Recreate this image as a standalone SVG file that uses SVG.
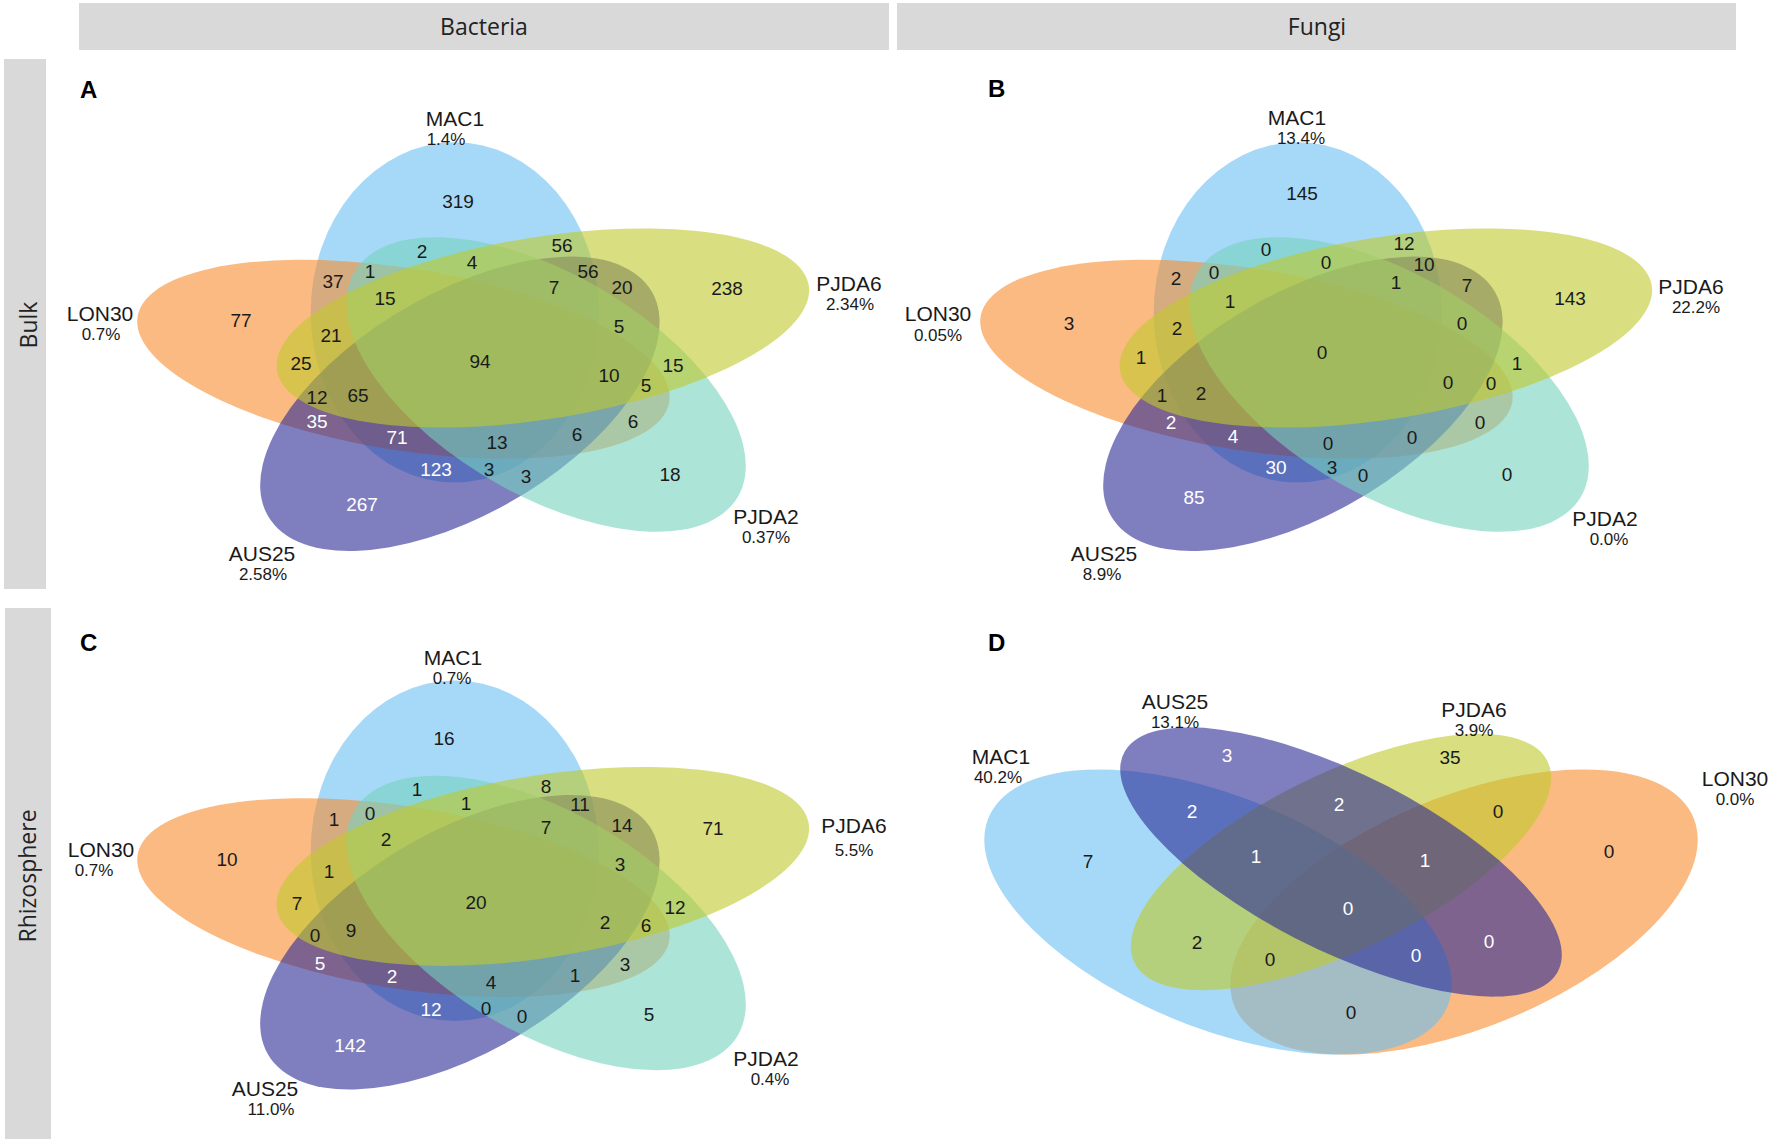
<svg xmlns="http://www.w3.org/2000/svg" width="1772" height="1144" viewBox="0 0 1772 1144">
<style>
.bar{fill:#d9d9d9}
.hdr{font-family:"Open Sans","Liberation Sans",sans-serif;font-size:23px;fill:#222;text-anchor:middle}
.let{font-family:"Liberation Sans",Arial,sans-serif;font-size:24px;font-weight:bold;fill:#000}
.lbl{font-family:"Liberation Sans",Arial,sans-serif;font-size:21px;fill:#1a1a1a;text-anchor:middle}
.pct{font-family:"Liberation Sans",Arial,sans-serif;font-size:17px;fill:#1a1a1a;text-anchor:middle}
.n{font-family:"Liberation Sans",Arial,sans-serif;font-size:19px;fill:#1a1a1a;text-anchor:middle}
.n .w,.w{fill:#fff}
.mac{fill:#6bc0f2;fill-opacity:.6}
.lon{fill:#f78c2f;fill-opacity:.6}
.aus{fill:#2a2a96;fill-opacity:.6}
.pj2{fill:#76d2be;fill-opacity:.6}
.pj6{fill:#c0ca2b;fill-opacity:.6}
</style>
<defs>
<ellipse id="e5" cx="0" cy="0" rx="0.46" ry="0.24"/>
</defs>

<g id="headers">
<rect class="bar" x="79" y="3" width="810" height="47"/>
<text class="hdr" x="484" y="35">Bacteria</text>
<rect class="bar" x="897" y="3" width="839" height="47"/>
<text class="hdr" x="1317" y="35">Fungi</text>
<rect class="bar" x="4" y="59" width="42" height="530"/>
<text class="hdr" transform="translate(37,325) rotate(-90)">Bulk</text>
<rect class="bar" x="5" y="608" width="46" height="531"/>
<text class="hdr" transform="translate(36,876) rotate(-90)">Rhizosphere</text>
</g>

<!-- Panel A -->
<g id="panelA">
<text class="let" x="80" y="98">A</text>
<g id="A-MAC1"><use href="#e5" class="mac" transform="translate(481.4,357.6) scale(600,370) translate(-0.04446,-0.12216) rotate(-90)"/>
<text class="lbl" x="455" y="126">MAC1</text><text class="pct" x="446" y="145">1.4%</text></g>
<g id="A-LON30"><use href="#e5" class="lon" transform="translate(481.4,357.6) scale(600,370) translate(-0.12992,0.00454) rotate(-162)"/>
<text class="lbl" x="100" y="321">LON30</text><text class="pct" x="101" y="340">0.7%</text></g>
<g id="A-AUS25"><use href="#e5" class="aus" transform="translate(481.4,357.6) scale(600,370) translate(-0.03583,0.12496) rotate(-234)"/>
<text class="lbl" x="262" y="561">AUS25</text><text class="pct" x="263" y="580">2.58%</text></g>
<g id="A-PJDA2"><use href="#e5" class="pj2" transform="translate(481.4,357.6) scale(600,370) translate(0.10778,0.07269) rotate(-306)"/>
<text class="lbl" x="766" y="524">PJDA2</text><text class="pct" x="766" y="543">0.37%</text></g>
<g id="A-PJDA6"><use href="#e5" class="pj6" transform="translate(481.4,357.6) scale(600,370) translate(0.10244,-0.08004) rotate(-18)"/>
<text class="lbl" x="849" y="291">PJDA6</text><text class="pct" x="850" y="310">2.34%</text></g>
<g id="A-counts" class="n">
<text x="458" y="208">319</text><text x="422" y="258">2</text><text x="472" y="269">4</text>
<text x="370" y="278">1</text><text x="333" y="288">37</text><text x="385" y="305">15</text>
<text x="241" y="327">77</text><text x="331" y="342">21</text><text x="562" y="252">56</text>
<text x="588" y="278">56</text><text x="554" y="294">7</text><text x="622" y="294">20</text>
<text x="727" y="295">238</text><text x="619" y="333">5</text><text x="301" y="370">25</text>
<text x="480" y="368">94</text><text x="317" y="404">12</text><text x="358" y="402">65</text>
<text class="w" x="317" y="428">35</text><text class="w" x="397" y="444">71</text><text x="497" y="449">13</text>
<text class="w" x="436" y="476">123</text><text x="489" y="476">3</text><text class="w" x="362" y="511">267</text>
<text x="609" y="382">10</text><text x="646" y="392">5</text><text x="673" y="372">15</text>
<text x="633" y="428">6</text><text x="577" y="441">6</text><text x="526" y="483">3</text>
<text x="670" y="481">18</text>
</g>
</g>

<!-- Panel B -->
<g id="panelB">
<text class="let" x="988" y="97">B</text>
<g id="B-MAC1"><use href="#e5" class="mac" transform="translate(1324.4,357.6) scale(600,370) translate(-0.04446,-0.12216) rotate(-90)"/>
<text class="lbl" x="1297" y="125">MAC1</text><text class="pct" x="1301" y="144">13.4%</text></g>
<g id="B-LON30"><use href="#e5" class="lon" transform="translate(1324.4,357.6) scale(600,370) translate(-0.12992,0.00454) rotate(-162)"/>
<text class="lbl" x="938" y="321">LON30</text><text class="pct" x="938" y="341">0.05%</text></g>
<g id="B-AUS25"><use href="#e5" class="aus" transform="translate(1324.4,357.6) scale(600,370) translate(-0.03583,0.12496) rotate(-234)"/>
<text class="lbl" x="1104" y="561">AUS25</text><text class="pct" x="1102" y="580">8.9%</text></g>
<g id="B-PJDA2"><use href="#e5" class="pj2" transform="translate(1324.4,357.6) scale(600,370) translate(0.10778,0.07269) rotate(-306)"/>
<text class="lbl" x="1605" y="526">PJDA2</text><text class="pct" x="1609" y="545">0.0%</text></g>
<g id="B-PJDA6"><use href="#e5" class="pj6" transform="translate(1324.4,357.6) scale(600,370) translate(0.10244,-0.08004) rotate(-18)"/>
<text class="lbl" x="1691" y="294">PJDA6</text><text class="pct" x="1696" y="313">22.2%</text></g>
<g id="B-counts" class="n">
<text x="1302" y="200">145</text><text x="1266" y="256">0</text><text x="1326" y="269">0</text>
<text x="1404" y="250">12</text><text x="1424" y="271">10</text><text x="1176" y="285">2</text>
<text x="1214" y="279">0</text><text x="1396" y="289">1</text><text x="1467" y="292">7</text>
<text x="1570" y="305">143</text><text x="1069" y="330">3</text><text x="1230" y="308">1</text>
<text x="1177" y="335">2</text><text x="1462" y="330">0</text><text x="1141" y="364">1</text>
<text x="1322" y="359">0</text><text x="1517" y="370">1</text><text x="1448" y="389">0</text>
<text x="1491" y="390">0</text><text x="1162" y="402">1</text><text x="1201" y="400">2</text>
<text class="w" x="1171" y="429">2</text><text x="1480" y="429">0</text><text class="w" x="1233" y="443">4</text>
<text x="1328" y="450">0</text><text x="1412" y="444">0</text><text class="w" x="1276" y="474">30</text>
<text x="1332" y="474">3</text><text x="1363" y="482">0</text><text x="1507" y="481">0</text>
<text class="w" x="1194" y="504">85</text>
</g>
</g>

<!-- Panel C -->
<g id="panelC">
<text class="let" x="80" y="651">C</text>
<g id="C-MAC1"><use href="#e5" class="mac" transform="translate(481.4,896) scale(600,370) translate(-0.04446,-0.12216) rotate(-90)"/>
<text class="lbl" x="453" y="665">MAC1</text><text class="pct" x="452" y="684">0.7%</text></g>
<g id="C-LON30"><use href="#e5" class="lon" transform="translate(481.4,896) scale(600,370) translate(-0.12992,0.00454) rotate(-162)"/>
<text class="lbl" x="101" y="857">LON30</text><text class="pct" x="94" y="876">0.7%</text></g>
<g id="C-AUS25"><use href="#e5" class="aus" transform="translate(481.4,896) scale(600,370) translate(-0.03583,0.12496) rotate(-234)"/>
<text class="lbl" x="265" y="1096">AUS25</text><text class="pct" x="271" y="1115">11.0%</text></g>
<g id="C-PJDA2"><use href="#e5" class="pj2" transform="translate(481.4,896) scale(600,370) translate(0.10778,0.07269) rotate(-306)"/>
<text class="lbl" x="766" y="1066">PJDA2</text><text class="pct" x="770" y="1085">0.4%</text></g>
<g id="C-PJDA6"><use href="#e5" class="pj6" transform="translate(481.4,896) scale(600,370) translate(0.10244,-0.08004) rotate(-18)"/>
<text class="lbl" x="854" y="833">PJDA6</text><text class="pct" x="854" y="856">5.5%</text></g>
<g id="C-counts" class="n">
<text x="444" y="745">16</text><text x="417" y="796">1</text><text x="466" y="810">1</text>
<text x="546" y="793">8</text><text x="580" y="811">11</text><text x="334" y="826">1</text>
<text x="370" y="820">0</text><text x="546" y="834">7</text><text x="622" y="832">14</text>
<text x="713" y="835">71</text><text x="386" y="846">2</text><text x="227" y="866">10</text>
<text x="329" y="878">1</text><text x="620" y="871">3</text><text x="297" y="910">7</text>
<text x="476" y="909">20</text><text x="675" y="914">12</text><text x="605" y="929">2</text>
<text x="646" y="932">6</text><text x="315" y="942">0</text><text x="351" y="937">9</text>
<text class="w" x="320" y="970">5</text><text x="625" y="971">3</text><text class="w" x="392" y="983">2</text>
<text x="491" y="989">4</text><text x="575" y="982">1</text><text class="w" x="431" y="1016">12</text>
<text x="486" y="1015">0</text><text x="522" y="1023">0</text><text x="649" y="1021">5</text>
<text class="w" x="350" y="1052">142</text>
</g>
</g>

<!-- Panel D -->
<g id="panelD">
<text class="let" x="988" y="651">D</text>
<g id="D-LON30"><ellipse class="lon" cx="0" cy="0" rx="0.35" ry="0.2" transform="translate(1341,897) scale(820,500) translate(0.15,0.03) rotate(-45)"/>
<text class="lbl" x="1735" y="786">LON30</text><text class="pct" x="1735" y="805">0.0%</text></g>
<g id="D-MAC1"><ellipse class="mac" cx="0" cy="0" rx="0.35" ry="0.2" transform="translate(1341,897) scale(820,500) translate(-0.15,0.03) rotate(45)"/>
<text class="lbl" x="1001" y="764">MAC1</text><text class="pct" x="998" y="783">40.2%</text></g>
<g id="D-PJDA6"><ellipse class="pj6" cx="0" cy="0" rx="0.33" ry="0.15" transform="translate(1341,897) scale(820,500) translate(0,-0.07) rotate(-45)"/>
<text class="lbl" x="1474" y="717">PJDA6</text><text class="pct" x="1474" y="736">3.9%</text></g>
<g id="D-AUS25"><ellipse class="aus" cx="0" cy="0" rx="0.35" ry="0.15" transform="translate(1341,897) scale(820,500) translate(0,-0.07) rotate(45)"/>
<text class="lbl" x="1175" y="709">AUS25</text><text class="pct" x="1175" y="728">13.1%</text></g>
<g id="D-counts" class="n">
<text class="w" x="1227" y="762">3</text><text x="1450" y="764">35</text><text class="w" x="1192" y="818">2</text>
<text class="w" x="1339" y="811">2</text><text x="1498" y="818">0</text><text x="1088" y="868">7</text>
<text class="w" x="1256" y="863">1</text><text class="w" x="1425" y="867">1</text><text x="1609" y="858">0</text>
<text class="w" x="1348" y="915">0</text><text x="1197" y="949">2</text><text class="w" x="1489" y="948">0</text>
<text x="1270" y="966">0</text><text class="w" x="1416" y="962">0</text><text x="1351" y="1019">0</text>
</g>
</g>
</svg>
